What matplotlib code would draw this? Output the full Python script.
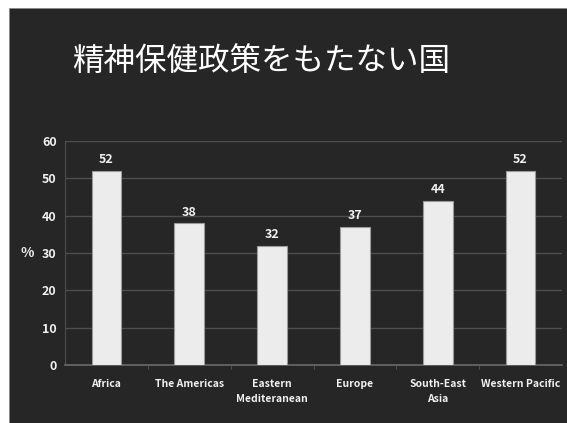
import matplotlib.pyplot as plt
from matplotlib.patches import Rectangle

# Countries without a mental health policy, by WHO region (%)
regions = ['Africa', 'The Americas', 'Eastern\nMediteranean', 'Europe', 'South-East\nAsia', 'Western Pacific']
values = [52, 38, 32, 37, 44, 52]
y_ticks = [0, 10, 20, 30, 40, 50, 60]
title = '精神保健政策をもたない国'

bg = '#262626'
txt = '#f0f0f0'
plt.rcParams['font.family'] = ['Noto Sans CJK JP', 'DejaVu Sans']

fig = plt.figure(figsize=(5.67, 4.23), dpi=100)
fig.patch.set_facecolor('white')
# dark slide panel, leaving a thin white margin at top and left
fig.patches.append(Rectangle((9 / 567, 0), 1, 1 - 8 / 423, transform=fig.transFigure,
                             facecolor=bg, edgecolor='#888888', linewidth=0.6, zorder=-10))

fig.text(72 / 567, 1 - 61 / 423, title, color='white', fontsize=22.7,
         ha='left', va='center')

ax = fig.add_axes([65 / 567, 58 / 423, 497 / 567, 224 / 423])
ax.set_facecolor(bg)

x = list(range(len(regions)))
bars = ax.bar(x, values, width=0.36, color='#ececec', edgecolor='#9a9a9a',
              linewidth=0.8, zorder=3)

for bar, v in zip(bars, values):
    ax.text(bar.get_x() + bar.get_width() / 2, v + 1.2, str(v), color=txt,
            fontsize=9, fontweight='bold', ha='center', va='bottom')

ax.set_xlim(-0.5, len(regions) - 0.5)
ax.set_ylim(0, 60)
ax.set_yticks(y_ticks)
ax.yaxis.grid(True, color='#4e4e4e', linewidth=1.0, zorder=0)
ax.set_axisbelow(True)

ax.set_xticks(x)
ax.set_xticklabels(regions, color=txt, fontsize=7.5, fontweight='bold',
                   linespacing=1.6)
ax.tick_params(axis='x', length=0, pad=10)
ax.set_xticks([i + 0.5 for i in x[:-1]], minor=True)
ax.tick_params(axis='x', which='minor', length=3, color='#555555', direction='out')
ax.tick_params(axis='y', length=0, pad=6, labelcolor=txt, labelsize=9)
for lbl in ax.get_yticklabels():
    lbl.set_fontweight('bold')

ax.set_ylabel('%', rotation=0, color=txt, fontsize=10, fontweight='bold',
              labelpad=11, va='center')

for side in ['top', 'right']:
    ax.spines[side].set_visible(False)
ax.spines['left'].set_color('#4e4e4e')
ax.spines['bottom'].set_color('#6a6a6a')
ax.spines['bottom'].set_linewidth(1.2)

fig.savefig('out.png', dpi=100, facecolor=fig.get_facecolor())
